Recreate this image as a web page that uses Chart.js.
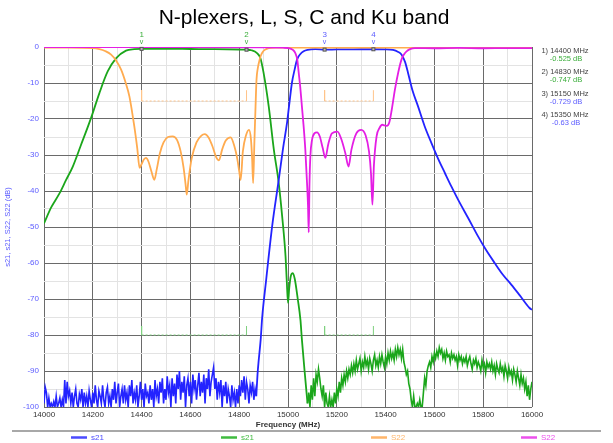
<!DOCTYPE html>
<html><head><meta charset="utf-8">
<script src="https://cdn.jsdelivr.net/npm/chart.js@4/dist/chart.umd.min.js"></script>
<style>html,body{margin:0;padding:0;background:#fff;}canvas{display:block;}</style>
</head><body>
<canvas id="c" width="613" height="443"></canvas>
<script>
const chartTitle = 'N-plexers, L, S, C and Ku band';
const seriesLabels = ['s21', 's21', 'S22', 'S22'];
const xAxisTitle = 'Frequency (MHz)';
const yAxisTitle = 's21, s21, S22, S22 (dB)';

// Green s21 (low band filter) smooth part
const greenFreq = [14000,14030,14064,14090,14118,14150,14193,14227,14261,14296,14336,14370,14400,14500,14600,14700,14800,14830,14850,14873,14887,14900,14921,14942,14962,14976,14990,14995,15000,15005,15012,15020,15028,15040,15051,15057,15068,15080];
const greenDb   = [-49,-44.5,-40.6,-37,-33.2,-27.5,-19.7,-12.8,-6.8,-3.1,-1.0,-0.6,-0.525,-0.5,-0.55,-0.6,-0.7,-0.747,-0.9,-1.7,-3.1,-7.2,-16.5,-28.5,-37.8,-47,-58.2,-65,-71.1,-67,-63.5,-62.8,-64.5,-70,-75.8,-81.3,-90,-99];

// Green s21 stop-band noise
const greenNoiseFreq = [15080,15085,15090,15095,15100,15105,15110,15115,15120,15125,
15130,15135,15140,15145,15150,15155,15160,15165,15170,15175,
15180,15185,15190,15195,15200,15205,15210,15215,15220,15225,
15230,15235,15240,15245,15250,15255,15260,15265,15270,15275,
15280,15285,15290,15295,15300,15305,15310,15315,15320,15325,
15330,15335,15340,15345,15350,15355,15360,15365,15370,15375,
15380,15385,15390,15395,15400,15405,15410,15415,15420,15425,
15430,15435,15440,15445,15450,15455,15460,15465,15470,15475,
15480,15485,15490,15495,15500,15505,15510,15515,15520,15525,
15530,15535,15540,15545,15550,15555,15560,15565,15570,15575,
15580,15585,15590,15595,15600,15605,15610,15615,15620,15625,
15630,15635,15640,15645,15650,15655,15660,15665,15670,15675,
15680,15685,15690,15695,15700,15705,15710,15715,15720,15725,
15730,15735,15740,15745,15750,15755,15760,15765,15770,15775,
15780,15785,15790,15795,15800,15805,15810,15815,15820,15825,
15830,15835,15840,15845,15850,15855,15860,15865,15870,15875,
15880,15885,15890,15895,15900,15905,15910,15915,15920,15925,
15930,15935,15940,15945,15950,15955,15960,15965,15970,15975,
15980,15985,15990,15995,16000];
const greenNoiseDb = [-99,-96,-100,-94,-98,-92,-97,-91,-93,-89.5,
-92,-95,-97,-94,-100,-96,-99,-100,-97,-100,
-98,-100,-96,-99,-95,-97,-93,-96,-92,-94,
-91,-93,-90,-92,-89.5,-91,-88.5,-90.5,-88,-90,
-87,-89.5,-88,-86.5,-90,-87.5,-89,-86,-88.5,-87,
-89.5,-86.5,-88,-90,-87,-85.5,-88.5,-87,-89,-86,
-88,-85.5,-87.5,-89,-86,-88,-85,-87,-84.5,-86.5,
-85,-87,-84,-86,-83.5,-85.5,-84,-86.5,-84,-87.5,
-89,-91,-90,-93.5,-95,-98,-100,-97,-100,-100,
-99,-100,-98,-100,-100,-96,-92,-94,-90,-88.5,
-87.5,-89,-86,-87.5,-85,-86.5,-84.5,-86,-83.5,-85,
-84,-86.5,-85,-87,-84.5,-86,-85.5,-87.5,-85,-86.5,
-85.5,-87,-86,-88.5,-85.5,-87,-86,-88,-86.5,-87.5,
-86,-88.5,-87,-86,-88,-89.5,-87,-88,-86.5,-89,
-87.5,-88.5,-90,-87,-89,-88,-90.5,-87.5,-89,-88,
-89.5,-87.5,-90,-88.5,-91,-88,-89.5,-90.5,-88,-90,
-89,-91.5,-88.5,-90,-92,-89,-91,-90,-92.5,-89.5,
-91,-93,-90,-92,-94,-91,-93.5,-92,-95,-93,
-97,-94,-98,-95,-93];

// Blue s21 (high band filter) stop-band noise
const blueNoiseFreq = [14000,14005,14010,14015,14020,14025,14030,14035,14040,14045,
14050,14055,14060,14065,14070,14075,14080,14085,14090,14095,
14100,14105,14110,14115,14120,14125,14130,14135,14140,14145,
14150,14155,14160,14165,14170,14175,14180,14185,14190,14195,
14200,14205,14210,14215,14220,14225,14230,14235,14240,14245,
14250,14255,14260,14265,14270,14275,14280,14285,14290,14295,
14300,14305,14310,14315,14320,14325,14330,14335,14340,14345,
14350,14355,14360,14365,14370,14375,14380,14385,14390,14395,
14400,14405,14410,14415,14420,14425,14430,14435,14440,14445,
14450,14455,14460,14465,14470,14475,14480,14485,14490,14495,
14500,14505,14510,14515,14520,14525,14530,14535,14540,14545,
14550,14555,14560,14565,14570,14575,14580,14585,14590,14595,
14600,14605,14610,14615,14620,14625,14630,14635,14640,14645,
14650,14655,14660,14665,14670,14675,14680,14685,14690,14695,
14700,14705,14710,14715,14720,14725,14730,14735,14740,14745,
14750,14755,14760,14765,14770,14775,14780,14785,14790,14795,
14800,14805,14810,14815,14820,14825,14830,14835,14840,14845,
14850,14855,14860,14865,14870];
const blueNoiseDb = [-99,-94.5,-96,-100,-97.5,-100,-99,-100,-98.5,-100,
-97,-100,-99,-97.5,-100,-98,-100,-92.5,-99,-93,
-97,-95.5,-99,-96,-100,-97,-95,-99,-100,-96.5,
-98,-95,-100,-96,-99,-97,-100,-95.5,-98,-100,
-96,-99,-94,-98,-100,-95.5,-97,-99,-94,-98,
-100,-96,-94.5,-99,-97,-100,-95,-98,-93,-99,
-96,-93.5,-100,-97,-95,-99,-94,-98,-96,-100,
-94,-97,-92.5,-99,-96,-98,-94,-100,-97,-93,
-98,-95,-100,-93.5,-97,-96,-99,-94,-98,-95,
-100,-92.5,-97,-95,-99,-93,-96,-92,-99,-95,
-98,-91.5,-96,-94,-100,-92,-97,-93.5,-99,-91,
-95,-90,-98,-93,-96,-91.5,-100,-94,-92,-97,
-93,-99,-91,-95,-92.5,-98,-94,-90.5,-97,-93,
-96,-91,-99,-92,-95,-89.5,-97,-93,-91,-89,
-95,-92,-98,-93,-96,-92.5,-100,-94,-97,-93,
-99,-95,-97,-100,-94,-98,-96,-100,-95,-99,
-94,-97,-92.5,-96,-91.5,-98,-93,-95,-99,-94,
-96,-93,-98,-95,-97];

// Blue s21 smooth part
const blueFreq = [14870,14875,14880,14888,14894,14910,14935,14962,14980,14996,15005,15016,15028,15037,15050,15064,15080,15112,15150,15200,15250,15300,15350,15400,15430,15450,15465,15480,15492,15510,15533,15560,15588,15615,15643,15670,15697,15740,15779,15810,15847,15880,15915,15950,15990,16000];
const blueDb   = [-97,-91,-87,-81.3,-75.3,-65,-49.8,-36.9,-28,-21.1,-16,-10,-6,-3.5,-2,-1.2,-0.8,-0.6,-0.729,-0.68,-0.65,-0.62,-0.63,-0.65,-0.8,-1.3,-2.1,-4.2,-7.2,-12,-16.5,-22,-26.7,-31,-35,-38.8,-42.4,-47.7,-52.6,-56.2,-60,-63.2,-66,-69,-72.5,-73];

// Orange S22 (low band filter return loss)
const orangeFreq = [14000,14100,14200,14227,14250,14275,14296,14316,14335,14350,14370,14382,14392,14400,14410,14418,14428,14440,14452,14462,14475,14490,14508,14527,14545,14560,14572,14580,14585,14592,14605,14625,14645,14659,14675,14690,14705,14717,14730,14745,14765,14780,14792,14800,14806,14815,14828,14840,14848,14853,14857,14862,14867,14871,14876,14882,14888,14895,14905,14921,14950,15200,15500,16000];
const orangeDb   = [-0.15,-0.15,-0.3,-0.6,-1.1,-2.1,-3.8,-6.3,-10,-13.7,-22,-28,-33.6,-32.5,-31.2,-30.8,-31.8,-34.5,-36.9,-34,-29.5,-26.5,-25,-24.8,-25.8,-29,-33.5,-38,-41,-37,-31,-26.5,-24.6,-24.2,-25.2,-27.5,-30.5,-31.5,-28.5,-26,-25.1,-27.5,-31,-34.5,-36.9,-29,-24.5,-23,-25.5,-31,-37.8,-27,-16.5,-9,-6,-4,-2.5,-1.5,-0.8,-0.3,-0.15,-0.15,-0.15,-0.15];

// Magenta S22 (high band filter return loss)
const magentaFreq = [14000,14500,14900,14980,15003,15020,15030,15038,15044,15050,15057,15064,15071,15078,15082,15085,15088,15092,15098,15108,15119,15130,15142,15153,15165,15180,15203,15218,15235,15248,15260,15280,15300,15318,15332,15340,15346,15352,15363,15375,15386,15395,15405,15415,15425,15438,15452,15465,15476,15486,15500,15520,15600,15700,15800,15900,16000];
const magentaDb   = [-0.05,-0.05,-0.1,-0.2,-0.3,-0.8,-1.7,-3.5,-7.2,-11,-16.5,-22,-28.5,-37.8,-44,-51.5,-38,-30,-26,-24,-23.7,-24.8,-28,-30.8,-27,-24,-23.5,-25.5,-29.5,-33.2,-28.5,-24,-23,-24.5,-29,-35,-43.8,-33,-24.8,-22.5,-21.6,-21.8,-21.9,-21,-17.5,-11.9,-7,-3.5,-2,-1.2,-0.6,-0.3,-0.35,-0.25,-0.35,-0.3,-0.3];

// Limit masks
const maskFreq = [14400, 14830, 15150, 15350];
const orangeMaskLevel = -15, orangeMaskTop = -12;
const greenMaskLevel = -80, greenMaskTop = -77.5;

// Markers
const markerFreq = [14400, 14830, 15150, 15350];
const markerDb = [-0.525, -0.747, -0.729, -0.63];
const markerTrace = ['green', 'green', 'blue', 'blue'];

// Axis ticks
const xMin = 14000, xMax = 16000, xMinorStep = 100, xMajorStep = 200;
const yMin = -100, yMax = 0, yMinorStep = 5, yMajorStep = 10;

const COL = {
  blue: '#2323ff', green: '#1ba61b', orange: '#ffab4f', magenta: '#e41ee4',
  blueL: '#4b4bff', greenL: '#3fbb3f', orangeL: '#ffb56a', magentaL: '#ec50ec',
  axisBlue: '#5c5cff', markerBlue: '#5c5cff', markerGreen: '#3aad3a'
};
const FONT = 'Liberation Sans, Arial, sans-serif';
Chart.defaults.font.family = FONT;

function pts(fx, fy) { return fx.map((x, i) => ({x: x, y: fy[i]})); }
function maskPts(level, top) {
  const out = [];
  for (let i = 0; i < maskFreq.length; i += 2) {
    out.push({x: maskFreq[i], y: top}, {x: maskFreq[i], y: level}, {x: maskFreq[i + 1], y: level}, {x: maskFreq[i + 1], y: top});
    if (i + 2 < maskFreq.length) out.push({x: (maskFreq[i + 1] + maskFreq[i + 2]) / 2, y: null});
  }
  return out;
}
const dashSeg = {borderDash: ctx => (ctx.p0.parsed.y === ctx.p1.parsed.y ? [2, 2] : [])};

const datasets = [
  {label: seriesLabels[3], data: pts(magentaFreq, magentaDb), borderColor: COL.magenta, borderWidth: 1.8, cubicInterpolationMode: 'monotone'},
  {label: seriesLabels[2], data: pts(orangeFreq, orangeDb), borderColor: COL.orange, borderWidth: 1.8, cubicInterpolationMode: 'monotone'},
  {label: seriesLabels[0], data: pts(blueFreq, blueDb), borderColor: COL.blue, borderWidth: 1.8, cubicInterpolationMode: 'monotone'},
  {label: seriesLabels[0], data: pts(blueNoiseFreq, blueNoiseDb), borderColor: COL.blue, borderWidth: 1.6, tension: 0},
  {label: seriesLabels[1], data: pts(greenFreq, greenDb), borderColor: COL.green, borderWidth: 1.8, cubicInterpolationMode: 'monotone'},
  {label: seriesLabels[1], data: pts(greenNoiseFreq, greenNoiseDb), borderColor: COL.green, borderWidth: 1.6, tension: 0},
  {label: 'mask', data: maskPts(orangeMaskLevel, orangeMaskTop), borderColor: '#ffc48a', borderWidth: 1, spanGaps: false, segment: dashSeg},
  {label: 'mask', data: maskPts(greenMaskLevel, greenMaskTop), borderColor: '#7fd07f', borderWidth: 1, spanGaps: false, segment: dashSeg}
];
datasets.forEach(d => { d.pointRadius = 0; d.fill = false; });

const overlay = {
  id: 'overlay',
  afterDraw(chart) {
    const ctx = chart.ctx, xs = chart.scales.x, ys = chart.scales.y;
    ctx.save();
    // title
    ctx.fillStyle = '#000';
    ctx.font = '21px ' + FONT;
    ctx.textAlign = 'center'; ctx.textBaseline = 'middle';
    ctx.fillText(chartTitle, 304, 18);
    // markers
    for (let i = 0; i < markerFreq.length; i++) {
      const px = xs.getPixelForValue(markerFreq[i]);
      const py = ys.getPixelForValue(markerDb[i]);
      const c = markerTrace[i] === 'green' ? COL.markerGreen : COL.markerBlue;
      ctx.fillStyle = c;
      ctx.font = '8px ' + FONT;
      ctx.textAlign = 'center'; ctx.textBaseline = 'middle';
      ctx.fillText(String(i + 1), px, 35);
      ctx.font = '7px ' + FONT;
      ctx.fillText('v', px, 42);
      ctx.fillStyle = '#bbb'; ctx.strokeStyle = '#555'; ctx.lineWidth = 1;
      ctx.fillRect(px - 1.5, py - 1.5, 3, 3);
      ctx.strokeRect(px - 1.5, py - 1.5, 3, 3);
    }
    // readout
    ctx.textAlign = 'center'; ctx.textBaseline = 'middle';
    ctx.font = '7.5px ' + FONT;
    for (let i = 0; i < markerFreq.length; i++) {
      const y0 = 51 + i * 21.3;
      ctx.fillStyle = '#444';
      ctx.fillText((i + 1) + ') ' + markerFreq[i] + ' MHz', 565, y0);
      ctx.fillStyle = markerTrace[i] === 'green' ? COL.markerGreen : COL.markerBlue;
      ctx.fillText(markerDb[i] + ' dB', 566, y0 + 8);
    }
    // legend separator
    ctx.strokeStyle = '#a8a8a8'; ctx.lineWidth = 2;
    ctx.beginPath(); ctx.moveTo(12, 431); ctx.lineTo(601, 431); ctx.stroke();
    // legend
    const legCols = [COL.blueL, COL.greenL, COL.orangeL, COL.magentaL];
    ctx.font = '8px ' + FONT; ctx.textAlign = 'left'; ctx.textBaseline = 'middle';
    for (let i = 0; i < 4; i++) {
      const lx = 71 + i * 150;
      ctx.strokeStyle = legCols[i]; ctx.lineWidth = 2.5;
      ctx.beginPath(); ctx.moveTo(lx, 437.5); ctx.lineTo(lx + 16, 437.5); ctx.stroke();
      ctx.fillStyle = legCols[i];
      ctx.fillText(seriesLabels[i], lx + 20, 437.5);
    }
    ctx.restore();
  }
};

new Chart(document.getElementById('c'), {
  type: 'line',
  data: {datasets: datasets},
  options: {
    responsive: false, animation: false, devicePixelRatio: 1,
    layout: {padding: {left: 0, top: 47, right: 81, bottom: 13}},
    plugins: {legend: {display: false}, title: {display: false}, tooltip: {enabled: false}},
    scales: {
      x: {
        type: 'linear', min: xMin, max: xMax,
        afterFit: s => { s.height = 23; },
        ticks: {stepSize: xMinorStep, autoSkip: false, maxRotation: 0, padding: 3, color: '#333', font: {size: 8},
          callback: v => (v % xMajorStep === 0 ? String(v) : '')},
        grid: {color: c => (c.tick && c.tick.value % xMajorStep === 0 ? '#6a6a6a' : '#e3e3e3'), lineWidth: 1, drawTicks: false},
        border: {display: false},
        title: {display: true, text: xAxisTitle, color: '#333', font: {size: 8, weight: 'bold'}, padding: {top: 0, bottom: 0}}
      },
      y: {
        min: yMin, max: yMax,
        afterFit: s => { s.width = 44; },
        ticks: {stepSize: yMinorStep, autoSkip: false, padding: 5, color: COL.axisBlue, font: {size: 8},
          callback: v => (v % yMajorStep === 0 ? String(v) : '')},
        grid: {color: c => (c.tick && c.tick.value % yMajorStep === 0 ? '#6a6a6a' : '#e3e3e3'), lineWidth: 1, drawTicks: false},
        border: {display: false},
        title: {display: true, text: yAxisTitle, color: COL.axisBlue, font: {size: 7.5}, padding: {top: 3, bottom: 0}}
      }
    }
  },
  plugins: [overlay]
});
</script>
</body></html>
